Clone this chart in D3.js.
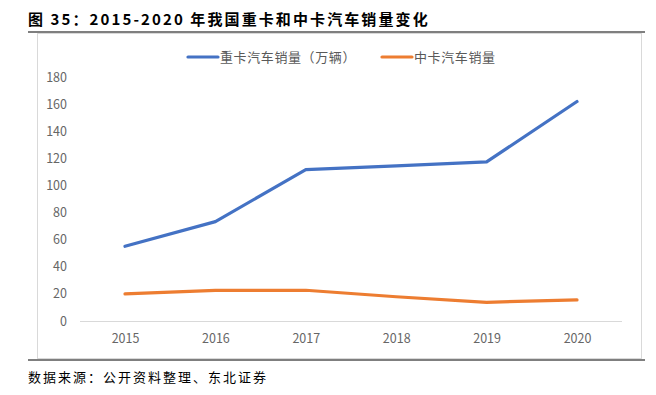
<!DOCTYPE html>
<html lang="zh">
<head>
<meta charset="UTF-8">
<title>重卡和中卡汽车销量</title>
<script src="https://d3js.org/d3.v7.min.js"></script>
<style>
  body { margin: 0; background: #fff; }
  text { font-family: "Noto Sans CJK SC", "Noto Sans", sans-serif; }
</style>
</head>
<body>
<div id="chart"></div>
<script>
const years = ["2015", "2016", "2017", "2018", "2019", "2020"];
const heavy = [55.1, 73.3, 111.7, 114.5, 117.4, 161.9];
const medium = [20.0, 22.6, 22.7, 17.9, 13.8, 15.6];
const yTicks = [0, 20, 40, 60, 80, 100, 120, 140, 160, 180];
const seriesNames = ["重卡汽车销量（万辆）", "中卡汽车销量"];
const colors = ["#4472c4", "#ed7d31"];

const w = 656, h = 395;

const svg = d3.select("#chart")
  .append("svg")
  .attr("width", w)
  .attr("height", h);

// title + frame
svg.append("text")
  .attr("x", 28).attr("y", 25)
  .attr("font-size", 15).attr("font-weight", "bold")
  .attr("letter-spacing", 2.1)
  .attr("fill", "#000")
  .text("图 35：2015-2020 年我国重卡和中卡汽车销量变化");

svg.append("rect")
  .attr("x", 37.5).attr("y", 33.5)
  .attr("width", 604).attr("height", 325)
  .attr("fill", "none").attr("stroke", "#d9d9d9");

svg.append("line")
  .attr("x1", 28).attr("x2", 645).attr("y1", 32).attr("y2", 32)
  .attr("stroke", "#555").attr("stroke-width", 1.5);
svg.append("line")
  .attr("x1", 28).attr("x2", 645).attr("y1", 360).attr("y2", 360)
  .attr("stroke", "#555").attr("stroke-width", 1.5);

svg.append("text")
  .attr("x", 28).attr("y", 382)
  .attr("font-size", 13).attr("fill", "#000")
  .attr("letter-spacing", 2)
  .text("数据来源：公开资料整理、东北证券");

// scales
const x = d3.scalePoint()
  .domain(years)
  .range([125, 577]);
const y = d3.scaleLinear()
  .domain([0, 180])
  .range([321, 77]);

// y axis labels
const yAxis = d3.axisLeft(y).tickValues(yTicks).tickSize(0).tickPadding(0);
svg.append("g")
  .attr("transform", "translate(67,0)")
  .call(yAxis)
  .call(g => g.select(".domain").remove())
  .call(g => g.selectAll("text")
    .attr("font-family", "'Liberation Sans', sans-serif")
    .attr("font-size", 12.5).attr("fill", "#666"));

// x axis
const xAxis = d3.axisBottom(x).tickSize(0).tickPadding(13);
svg.append("g")
  .attr("transform", "translate(0,321)")
  .call(xAxis)
  .call(g => g.select(".domain").attr("d", "M80,0.5H622").attr("stroke", "#d9d9d9"))
  .call(g => g.selectAll("text")
    .attr("font-family", "'Liberation Sans', sans-serif")
    .attr("font-size", 12.5).attr("fill", "#666"));

// lines
const line = d3.line()
  .x((d, i) => x(years[i]))
  .y(d => y(d));

[heavy, medium].forEach((s, k) => {
  svg.append("path")
    .datum(s)
    .attr("d", line)
    .attr("fill", "none")
    .attr("stroke", colors[k])
    .attr("stroke-width", 3.2)
    .attr("stroke-linecap", "round")
    .attr("stroke-linejoin", "round");
});

// legend
const legendX = [188, 382];
seriesNames.forEach((name, k) => {
  svg.append("line")
    .attr("x1", legendX[k]).attr("x2", legendX[k] + 30)
    .attr("y1", 57).attr("y2", 57)
    .attr("stroke", colors[k]).attr("stroke-width", 3.2)
    .attr("stroke-linecap", "round");
  svg.append("text")
    .attr("x", legendX[k] + 32).attr("y", 62)
    .attr("font-size", 13).attr("fill", "#595959")
    .attr("letter-spacing", 0.6)
    .text(name);
});
</script>
</body>
</html>
